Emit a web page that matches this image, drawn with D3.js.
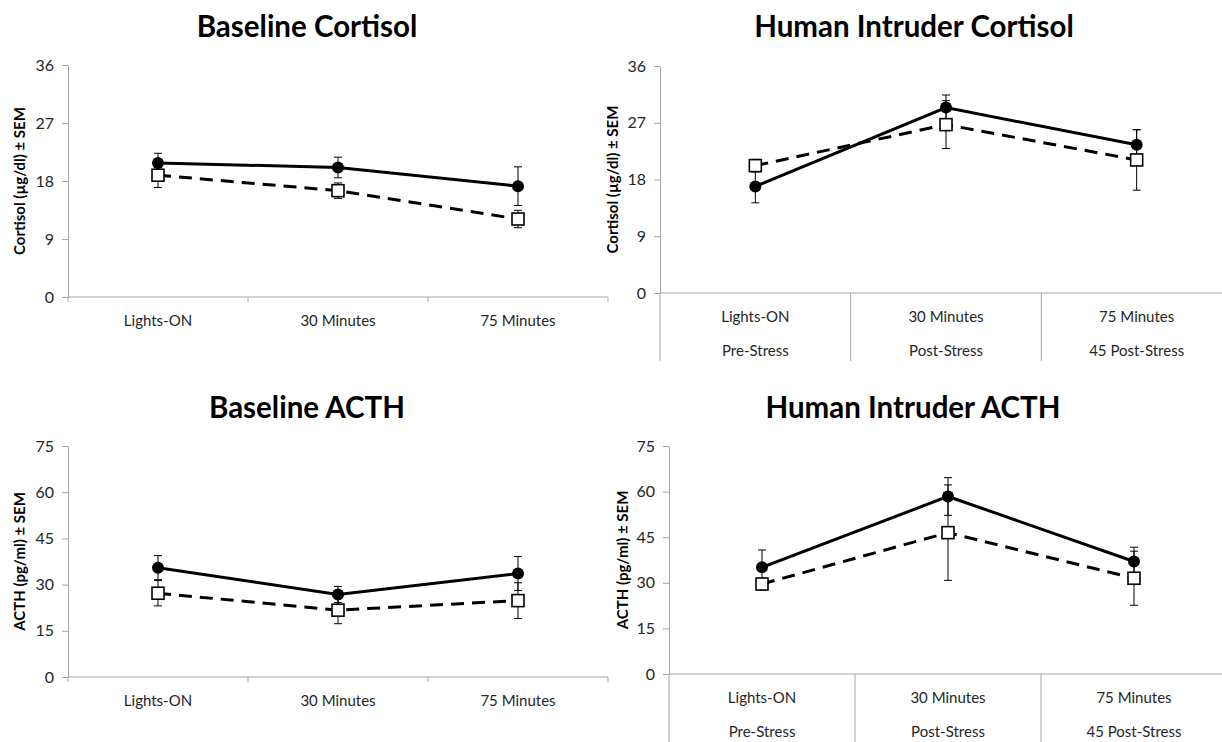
<!DOCTYPE html>
<html>
<head>
<meta charset="utf-8">
<script src="https://cdn.jsdelivr.net/npm/d3@7/dist/d3.min.js"></script>
<style>
  html, body { margin: 0; padding: 0; background: #fff; }
  svg { display: block; }
  text { font-family: Lato, "Open Sans", sans-serif; }
</style>
</head>
<body>
<svg id="chart" width="1222" height="742"></svg>
<script>
// Sampling times and the stress phase each belongs to
const categories = ["Lights-ON", "30 Minutes", "75 Minutes"];
const stressPhases = ["Pre-Stress", "Post-Stress", "45 Post-Stress"];

// Y tick values
const cortisolTicks = [0, 9, 18, 27, 36];
const acthTicks = [0, 15, 30, 45, 60, 75];

// Baseline cortisol (µg/dl)
const baseCortA = [20.8, 20.1, 17.2];
const baseCortASem = [1.5, 1.6, 3.0];
const baseCortB = [18.9, 16.5, 12.1];
const baseCortBSem = [1.9, 1.2, 1.35];

// Human intruder cortisol (µg/dl)
const hiCortA = [16.9, 29.4, 23.5];
const hiCortASem = [2.6, 2.0, 2.4];
const hiCortB = [20.2, 26.7, 21.1];
const hiCortBSem = [1.0, 3.8, 4.8];

// Baseline ACTH (pg/ml)
const baseActhA = [35.5, 26.8, 33.6];
const baseActhASem = [3.9, 2.6, 5.5];
const baseActhB = [27.2, 21.7, 24.8];
const baseActhBSem = [4.1, 4.4, 5.8];

// Human intruder ACTH (pg/ml)
const hiActhA = [35.1, 58.4, 37.0];
const hiActhASem = [5.7, 6.2, 4.7];
const hiActhB = [29.6, 46.5, 31.5];
const hiActhBSem = [1.9, 15.7, 8.9];

const svg = d3.select("#chart");
const AXIS = "#a6a6a6";
const INK = "#000";
const LABEL = "#262626";

const panels = [
  { title: "Baseline Cortisol", yLabel: "Cortisol (\u00b5g/dl) \u00b1 SEM",
    ticks: cortisolTicks, a: baseCortA, aSem: baseCortASem, b: baseCortB, bSem: baseCortBSem,
    x0: 68, x1: 608, yTop: 65, yBot: 297, titleX: 307, titleY: 37, yLabelX: 19, twoRow: false },
  { title: "Human Intruder Cortisol", yLabel: "Cortisol (\u00b5g/dl) \u00b1 SEM",
    ticks: cortisolTicks, a: hiCortA, aSem: hiCortASem, b: hiCortB, bSem: hiCortBSem,
    x0: 660, x1: 1232, yTop: 66, yBot: 293, titleX: 914, titleY: 37, yLabelX: 612, twoRow: true, sepBottom: 361 },
  { title: "Baseline ACTH", yLabel: "ACTH (pg/ml) \u00b1 SEM",
    ticks: acthTicks, a: baseActhA, aSem: baseActhASem, b: baseActhB, bSem: baseActhBSem,
    x0: 68, x1: 608, yTop: 446, yBot: 677, titleX: 307, titleY: 418, yLabelX: 19, twoRow: false },
  { title: "Human Intruder ACTH", yLabel: "ACTH (pg/ml) \u00b1 SEM",
    ticks: acthTicks, a: hiActhA, aSem: hiActhASem, b: hiActhB, bSem: hiActhBSem,
    x0: 669, x1: 1227, yTop: 446, yBot: 674, titleX: 913, titleY: 418, yLabelX: 622, twoRow: true, sepBottom: 745 }
];

panels.forEach(p => {
  const g = svg.append("g");
  const x = d3.scaleBand().domain(categories).range([p.x0, p.x1]).padding(0);
  const y = d3.scaleLinear().domain([0, d3.max(p.ticks)]).range([p.yBot, p.yTop]);
  const cx = c => x(c) + x.bandwidth() / 2;

  // title
  g.append("text")
    .attr("x", p.titleX).attr("y", p.titleY)
    .attr("text-anchor", "middle")
    .attr("font-size", 29.5).attr("font-weight", 700)
    .attr("fill", INK)
    .text(p.title);

  // y-axis title
  g.append("text")
    .attr("transform", `translate(${p.yLabelX},${(p.yTop + p.yBot) / 2}) rotate(-90)`)
    .attr("text-anchor", "middle").attr("dominant-baseline", "central")
    .attr("font-size", 15).attr("font-weight", 700)
    .attr("fill", INK)
    .text(p.yLabel);

  // y axis
  const yAxis = g.append("g")
    .attr("transform", `translate(${p.x0},0)`)
    .call(d3.axisLeft(y).tickValues(p.ticks).tickSizeInner(6).tickSizeOuter(0).tickPadding(8));
  yAxis.select(".domain").attr("stroke", AXIS);
  yAxis.selectAll(".tick line").attr("stroke", AXIS);
  yAxis.selectAll(".tick text")
    .attr("font-family", "Lato, 'Open Sans', sans-serif")
    .attr("font-size", 16).attr("fill", LABEL);

  // x axis baseline
  g.append("line")
    .attr("x1", p.x0).attr("x2", p.x1)
    .attr("y1", y(0)).attr("y2", y(0))
    .attr("stroke", AXIS);

  const bounds = categories.map(c => x(c)).concat([x(categories[categories.length - 1]) + x.bandwidth()]);

  if (!p.twoRow) {
    // short tick marks at category boundaries
    g.selectAll(".xtick").data(bounds).enter().append("line")
      .attr("x1", d => d).attr("x2", d => d)
      .attr("y1", y(0)).attr("y2", y(0) + 5)
      .attr("stroke", AXIS);
    g.selectAll(".xlab").data(categories).enter().append("text")
      .attr("x", cx).attr("y", y(0) + 23)
      .attr("text-anchor", "middle").attr("dominant-baseline", "central")
      .attr("font-size", 15).attr("fill", LABEL)
      .text(d => d);
  } else {
    // long separators for the two-level category labels
    g.selectAll(".xsep").data(bounds).enter().append("line")
      .attr("x1", d => d).attr("x2", d => d)
      .attr("y1", y(0)).attr("y2", p.sepBottom)
      .attr("stroke", AXIS);
    g.selectAll(".xlab").data(categories).enter().append("text")
      .attr("x", cx).attr("y", y(0) + 23)
      .attr("text-anchor", "middle").attr("dominant-baseline", "central")
      .attr("font-size", 15).attr("fill", LABEL)
      .text(d => d);
    g.selectAll(".xlab2").data(stressPhases).enter().append("text")
      .attr("x", (d, i) => cx(categories[i])).attr("y", y(0) + 57)
      .attr("text-anchor", "middle").attr("dominant-baseline", "central")
      .attr("font-size", 15).attr("fill", LABEL)
      .text(d => d);
  }

  const series = [
    { vals: p.a, sem: p.aSem, dash: null, marker: "circle" },
    { vals: p.b, sem: p.bSem, dash: "13,8", marker: "square" }
  ];

  series.forEach(s => {
    const pts = s.vals.map((v, i) => ({ c: categories[i], v, e: s.sem[i] }));

    // error bars
    const eb = g.append("g").attr("stroke", INK).attr("stroke-width", 1);
    pts.forEach(d => {
      const px = cx(d.c);
      eb.append("line").attr("x1", px).attr("x2", px)
        .attr("y1", y(d.v + d.e)).attr("y2", y(d.v - d.e));
      [d.v + d.e, d.v - d.e].forEach(t => {
        eb.append("line").attr("x1", px - 4).attr("x2", px + 4)
          .attr("y1", y(t)).attr("y2", y(t));
      });
    });

    // connecting line
    g.append("path")
      .datum(pts)
      .attr("fill", "none").attr("stroke", INK).attr("stroke-width", 3)
      .attr("stroke-dasharray", s.dash)
      .attr("d", d3.line().x(d => cx(d.c)).y(d => y(d.v)));

    // markers
    if (s.marker === "circle") {
      g.selectAll(null).data(pts).enter().append("circle")
        .attr("cx", d => cx(d.c)).attr("cy", d => y(d.v)).attr("r", 6)
        .attr("fill", INK);
    } else {
      g.selectAll(null).data(pts).enter().append("rect")
        .attr("x", d => cx(d.c) - 6).attr("y", d => y(d.v) - 6)
        .attr("width", 12).attr("height", 12)
        .attr("fill", "#fff").attr("stroke", INK).attr("stroke-width", 1.6);
    }
  });
});
</script>
</body>
</html>
